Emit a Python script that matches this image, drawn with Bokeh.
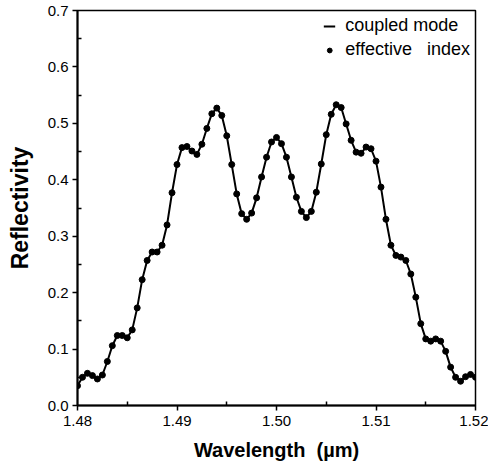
from bokeh.plotting import figure
from bokeh.models import Range1d, FixedTicker, Legend, LegendItem, PrintfTickFormatter
from bokeh.embed import file_html
from bokeh.resources import INLINE

wavelength = [
    1.4800, 1.4805, 1.4810, 1.4815, 1.4820, 1.4825, 1.4830, 1.4835, 1.4840, 1.4845,
    1.4850, 1.4855, 1.4860, 1.4865, 1.4870, 1.4875, 1.4880, 1.4885, 1.4890, 1.4895,
    1.4900, 1.4905, 1.4910, 1.4915, 1.4920, 1.4925, 1.4930, 1.4935, 1.4940, 1.4945,
    1.4950, 1.4955, 1.4960, 1.4965, 1.4970, 1.4975, 1.4980, 1.4985, 1.4990, 1.4995,
    1.5000, 1.5005, 1.5010, 1.5015, 1.5020, 1.5025, 1.5030, 1.5035, 1.5040, 1.5045,
    1.5050, 1.5055, 1.5060, 1.5065, 1.5070, 1.5075, 1.5080, 1.5085, 1.5090, 1.5095,
    1.5100, 1.5105, 1.5110, 1.5115, 1.5120, 1.5125, 1.5130, 1.5135, 1.5140, 1.5145,
    1.5150, 1.5155, 1.5160, 1.5165, 1.5170, 1.5175, 1.5180, 1.5185, 1.5190, 1.5195,
    1.5200,
]
reflectivity = [
    0.035, 0.050, 0.057, 0.053, 0.047, 0.054, 0.078, 0.106, 0.124, 0.124,
    0.120, 0.134, 0.173, 0.223, 0.257, 0.272, 0.272, 0.284, 0.320, 0.377,
    0.427, 0.457, 0.459, 0.451, 0.445, 0.463, 0.491, 0.517, 0.527, 0.514,
    0.478, 0.427, 0.375, 0.340, 0.330, 0.341, 0.368, 0.405, 0.440, 0.467,
    0.475, 0.464, 0.440, 0.405, 0.369, 0.344, 0.333, 0.344, 0.378, 0.428,
    0.480, 0.516, 0.533, 0.528, 0.499, 0.470, 0.449, 0.447, 0.458, 0.455,
    0.433, 0.387, 0.330, 0.284, 0.266, 0.263, 0.257, 0.233, 0.192, 0.145,
    0.118, 0.114, 0.118, 0.114, 0.096, 0.068, 0.050, 0.043, 0.051, 0.055,
    0.050,
]

x_ticks = [1.48, 1.49, 1.50, 1.51, 1.52]
x_minor = [1.485, 1.495, 1.505, 1.515]
y_ticks = [0.0, 0.1, 0.2, 0.3, 0.4, 0.5, 0.6, 0.7]
y_minor = [0.05, 0.15, 0.25, 0.35, 0.45, 0.55, 0.65]

FONT = "Liberation Sans"

p = figure(width=488, height=466, output_backend="svg", toolbar_location=None,
           x_range=Range1d(1.48, 1.52), y_range=Range1d(0.0, 0.7),
           min_border_left=77, min_border_right=13, min_border_top=10, min_border_bottom=61)

p.background_fill_color = "white"
p.border_fill_color = "white"
p.outline_line_color = "black"
p.outline_line_width = 1.5
p.xgrid.visible = False
p.ygrid.visible = False

line = p.line(wavelength, reflectivity, line_width=2, line_color="black")
dots = p.scatter(wavelength, reflectivity, size=6, fill_color="black", line_color="black")

p.xaxis.ticker = FixedTicker(ticks=x_ticks, minor_ticks=x_minor)
p.yaxis.ticker = FixedTicker(ticks=y_ticks, minor_ticks=y_minor)
p.xaxis.formatter = PrintfTickFormatter(format="%.2f")
p.yaxis.formatter = PrintfTickFormatter(format="%.1f")

for ax in (p.xaxis[0], p.yaxis[0]):
    ax.axis_line_width = 2
    ax.axis_line_color = "black"
    ax.major_tick_line_width = 1.5
    ax.minor_tick_line_width = 1.5
    ax.major_tick_line_color = "black"
    ax.minor_tick_line_color = "black"
    ax.major_tick_in = 0
    ax.major_tick_out = 5
    ax.minor_tick_in = 4
    ax.minor_tick_out = 0
    ax.major_label_text_font = FONT
    ax.major_label_text_font_size = "15px"
    ax.major_label_text_color = "black"
    ax.axis_label_text_font = FONT
    ax.axis_label_text_font_style = "bold"
    ax.axis_label_text_color = "black"

p.xaxis.axis_label = "Wavelength\u00a0\u00a0(µm)"
p.xaxis.axis_label_text_font_size = "20px"
p.xaxis.major_label_standoff = 5
p.xaxis.axis_label_standoff = 10
p.yaxis.axis_label = "Reflectivity"
p.yaxis.axis_label_text_font_size = "23px"
p.yaxis.major_label_standoff = 4
p.yaxis.axis_label_standoff = 12

legend = Legend(items=[
    LegendItem(label="coupled mode", renderers=[line]),
    LegendItem(label="effective\u00a0\u00a0\u00a0index", renderers=[dots]),
], location="top_right")
legend.label_text_font = FONT
legend.label_text_font_size = "18px"
legend.label_text_color = "black"
legend.glyph_width = 12
legend.label_standoff = 10
legend.spacing = 3
legend.margin = 0
legend.padding = 5
legend.background_fill_alpha = 0
legend.border_line_alpha = 0
p.add_layout(legend)

open("out.html", "w").write(file_html(p, INLINE))
